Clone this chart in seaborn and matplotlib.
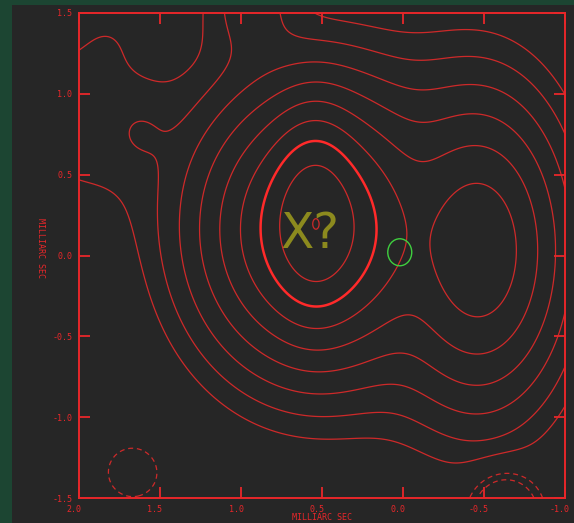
import numpy as np
import matplotlib
matplotlib.use("Agg")
import matplotlib.pyplot as plt
import matplotlib.transforms as mtransforms
from matplotlib.patches import Ellipse, Rectangle
import seaborn as sns

# Source model: components of the brightness distribution (mas, relative flux)
comp_x = [0.545, 0.52, -0.47, 2.00, 1.62, 1.80, 0.95, 1.667, -0.63]
comp_y = [0.24, 0.16, 0.03, 0.86, 0.76, 1.38, 1.60, -1.34, -1.58]
comp_flux = [0.45, 0.57, 0.20, 0.0048, 0.0030, 0.0011, 0.009, -0.0065, -0.024]
comp_ax = [0.026, 0.161, 0.120, 0.080, 0.024, 0.030, 0.036, 0.028, 0.026]
comp_ay = [0.054, 0.190, 0.210, 0.090, 0.028, 0.030, 0.050, 0.028, 0.028]
comp_core = [25.0, 2.0, 3.0, 25.0, 25.0, 25.0, 25.0, 25.0, 25.0]

# Contour levels (fraction of peak)
levels_pos = [0.0036, 0.0072, 0.0145, 0.029, 0.058, 0.116, 0.23, 0.46, 1.0]
levels_neg = [-0.0072, -0.0036]
thick_level = 0.23

# Axis ticks
x_ticks = [2.0, 1.5, 1.0, 0.5, 0.0, -0.5, -1.0]
y_ticks = [1.5, 1.0, 0.5, 0.0, -0.5, -1.0, -1.5]
x_ticklabels = ["2.0", "1.5", "1.0", "0.5", "0.0", "-0.5", "-1.0"]
y_ticklabels = ["1.5", "1.0", "0.5", "0.0", "-0.5", "-1.0", "-1.5"]
axis_label = "MILLIARC SEC"

# Marked feature
marker_xy = (0.02, 0.02)
marker_w, marker_h = 0.148, 0.167
note_text = "X?"
note_xy = (0.574, 0.135)

RED = "#e8262a"
LINE = "#e02a2a"
PANEL = "#262626"
GREEN_BG = "#1c4532"

sns.set_theme(style="dark")
plt.rcParams["font.family"] = ["DejaVu Sans Mono", "DejaVu Sans"]

W, H = 574, 523
fig = plt.figure(figsize=(W / 100, H / 100), dpi=100, facecolor=GREEN_BG)
fig.add_artist(Rectangle((12 / W, 0), 1 - 12 / W, 1 - 5 / H,
                         transform=fig.transFigure, facecolor=PANEL,
                         edgecolor="none", zorder=-10))

ax = fig.add_axes([79 / W, (H - 498) / H, (565 - 79) / W, (498 - 13) / H])
ax.set_facecolor(PANEL)
ax.set_zorder(1)

gx = np.linspace(-1.0, 2.0, 700)
gy = np.linspace(-1.5, 1.5, 700)
X, Y = np.meshgrid(gx, gy)
field = np.zeros_like(X)
for x0, y0, f, a, b, c in zip(comp_x, comp_y, comp_flux, comp_ax, comp_ay, comp_core):
    r2 = ((X - x0) / a) ** 2 + ((Y - y0) / b) ** 2
    field += f * np.exp(-(np.sqrt(r2 + c * c) - c))

ax.text(*note_xy, note_text, color="#8c8a1e", fontsize=35, ha="center",
        va="center", family="DejaVu Sans", zorder=1)

thin = [lv for lv in levels_pos if lv != thick_level]
ax.contour(X, Y, field, levels=thin, colors=LINE, linewidths=0.9, alpha=0.9,
           zorder=2)
ax.contour(X, Y, field, levels=[thick_level], colors="#ff2a2a",
           linewidths=1.8, zorder=2)
ax.contour(X, Y, field, levels=levels_neg, colors=LINE, linewidths=0.9,
           linestyles=[(0, (4, 3))], alpha=0.9, zorder=2)

ax.add_patch(Ellipse(marker_xy, marker_w, marker_h, facecolor="none",
                     edgecolor="#3fcf3f", linewidth=1.0, zorder=3))

ax.set_xlim(2.0, -1.0)
ax.set_ylim(-1.5, 1.5)
ax.set_xticks(x_ticks)
ax.set_xticklabels(x_ticklabels)
ax.set_yticks(y_ticks)
ax.set_yticklabels(y_ticklabels)
ax.tick_params(axis="both", direction="in", length=8, width=1.3, color=RED,
               labelcolor=RED, labelsize=6, top=True, right=True,
               bottom=True, left=True, pad=5)
shift = mtransforms.ScaledTranslation(-5 / 100, 0, fig.dpi_scale_trans)
for lab in ax.get_xticklabels():
    lab.set_transform(lab.get_transform() + shift)
for s in ax.spines.values():
    s.set_color(RED)
    s.set_linewidth(1.4)
ax.grid(False)

fig.text(322 / W, 1 - 518 / H, axis_label, color=RED, fontsize=6,
         ha="center", va="center")
fig.text(40 / W, 1 - 248 / H, axis_label, color=RED, fontsize=6,
         ha="center", va="center", rotation=270)

fig.savefig("out.png", dpi=100, facecolor=GREEN_BG)
